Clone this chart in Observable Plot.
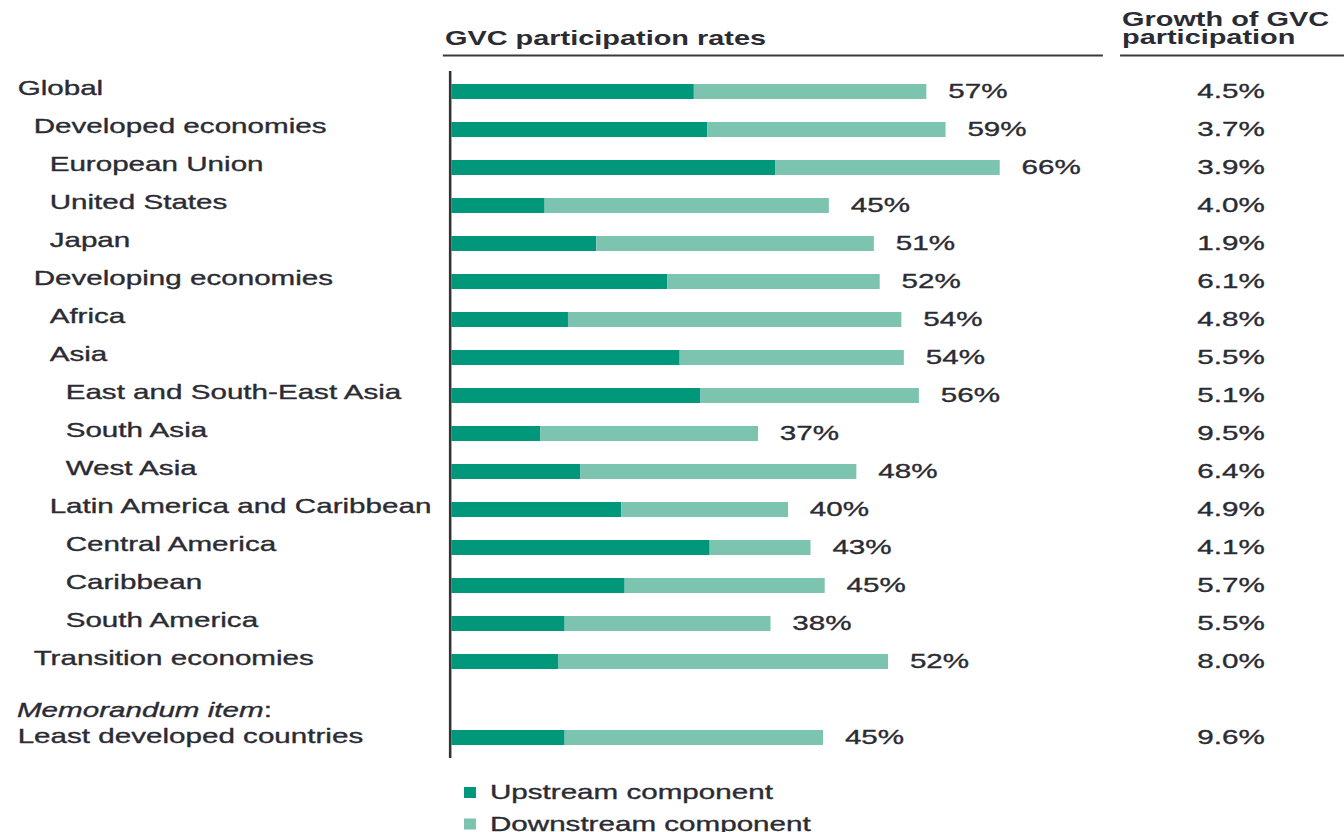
<!DOCTYPE html>
<html>
<head>
<meta charset="utf-8">
<script src="https://cdn.jsdelivr.net/npm/d3@7"></script>
<script src="https://cdn.jsdelivr.net/npm/@observablehq/plot@0.6"></script>
<style>
  html, body { margin: 0; padding: 0; background: #fff; overflow: hidden; }
  #chart { width: 1344px; height: 832px; }
</style>
</head>
<body>
<div id="chart"></div>
<script>
// ---------------- data ----------------
const regions = [
  "Global", "Developed economies", "European Union", "United States", "Japan",
  "Developing economies", "Africa", "Asia", "East and South-East Asia", "South Asia",
  "West Asia", "Latin America and Caribbean", "Central America", "Caribbean",
  "South America", "Transition economies", "Least developed countries"
];
// hierarchy depth of each region (0 = top level)
const depth = [0, 1, 2, 2, 2, 1, 2, 2, 3, 3, 3, 2, 3, 3, 3, 1, 0];
// upstream and downstream components (% of exports)
const upstream = [29.1, 30.7, 38.9, 11.2, 17.4, 25.9, 14.0, 27.4, 29.9, 10.7, 15.5, 20.4, 31.0, 20.8, 13.6, 12.8, 13.6];
const downstream = [27.9, 28.6, 26.9, 34.1, 33.3, 25.5, 40.0, 26.9, 26.2, 26.1, 33.1, 20.0, 12.1, 24.0, 24.7, 39.6, 31.0];
// printed participation rates
const totalLabels = [57, 59, 66, 45, 51, 52, 54, 54, 56, 37, 48, 40, 43, 45, 38, 52, 45];
// growth of GVC participation (%)
const growth = [4.5, 3.7, 3.9, 4.0, 1.9, 6.1, 4.8, 5.5, 5.1, 9.5, 6.4, 4.9, 4.1, 5.7, 5.5, 8.0, 9.6];
const components = ["Upstream component", "Downstream component"];
const colors = ["#00977a", "#7cc4b0"];
const headerBars = "GVC participation rates";
const headerGrowth = ["Growth of GVC", "participation"];
const memoLabel = "Memorandum item";

// ---------------- layout ----------------
const FONT = "'Liberation Sans', Arial, Helvetica, sans-serif";
const INK = "#2b2b33";
const SW = 0.35;                 // slight text thickening
const W = 953, H = 832;          // internal drawing size; displayed stretched to 1344 wide
const MEMO = "__memo__";
const LDC = regions[16];

const rows = regions.map((r, i) => ({
  region: r, depth: depth[i], up: upstream[i], down: downstream[i],
  total: totalLabels[i], growth: growth[i]
}));
const yDomain = [...regions.slice(0, 16), MEMO, LDC];
const long = rows.flatMap(d => [
  {region: d.region, component: components[0], value: d.up},
  {region: d.region, component: components[1], value: d.down}
]);

function decorations(index, scales, values, dims) {
  const g = d3.create("svg:g").attr("font-family", FONT).attr("fill", INK).attr("text-anchor", "start");
  const fl = dims.marginLeft;
  const fr = dims.width - dims.marginRight;
  // left header
  g.append("text").attr("x", fl - 4.5).attr("y", 45)
    .attr("font-weight", "bold").attr("font-size", 20.5).text(headerBars);
  g.append("line").attr("x1", fl - 6).attr("x2", fr - 129)
    .attr("y1", 55.5).attr("y2", 55.5).attr("stroke", "#3a3a3a").attr("stroke-width", 2);
  // right header
  const t = g.append("text").attr("font-weight", "bold").attr("font-size", 20.5);
  headerGrowth.forEach((s, i) => t.append("tspan").attr("x", fr - 115.4).attr("y", 26 + 18 * i).text(s));
  g.append("line").attr("x1", fr - 116.8).attr("x2", dims.width)
    .attr("y1", 55.5).attr("y2", 55.5).attr("stroke", "#3a3a3a").attr("stroke-width", 2);
  // memorandum label
  const bw = scales.y.bandwidth ? scales.y.bandwidth() : 0;
  const ym = scales.y(MEMO) + bw / 2 + 10.5;
  const m = g.append("text").attr("x", 12).attr("y", ym).attr("dy", "0.32em").attr("font-size", 21)
    .attr("stroke", INK).attr("stroke-width", SW);
  m.append("tspan").attr("font-style", "italic").text(memoLabel);
  m.append("tspan").text(":");
  // legend
  components.forEach((c, i) => {
    const cy = 792.5 + 31.5 * i;
    g.append("rect").attr("x", fl + 9).attr("y", cy - 5.5).attr("width", 8.5).attr("height", 11).attr("fill", colors[i]);
    g.append("text").attr("x", fl + 27.4).attr("y", cy).attr("dy", "0.32em").attr("font-size", 21)
      .attr("stroke", INK).attr("stroke-width", SW).text(c);
  });
  return g.node();
}

const marks = [
  Plot.ruleX([0], {stroke: "#333", strokeWidth: 1.8, dx: -1.3}),
  Plot.barX(long, {x: "value", y: "region", fill: "component"}),
  Plot.text(rows, {
    x: d => d.up + d.down, y: "region", text: d => d.total + "%",
    textAnchor: "start", dx: 15, dy: -1, fontSize: 21, fill: INK, stroke: INK, strokeWidth: SW
  }),
  Plot.text(rows, {
    y: "region", text: d => d.growth.toFixed(1) + "%",
    frameAnchor: "right", textAnchor: "end", dx: -14.7, dy: -1, fontSize: 21,
    fill: INK, stroke: INK, strokeWidth: SW
  })
];
[0, 1, 2, 3].forEach(k => {
  marks.push(Plot.text(rows.filter(d => d.depth === k && d.region !== LDC), {
    y: "region", text: "region", frameAnchor: "left", textAnchor: "start",
    dx: -308 + k * 11.35, dy: -3.5, fontSize: 21,
    fill: INK, stroke: INK, strokeWidth: SW
  }));
});
marks.push(Plot.text(rows.filter(d => d.region === LDC), {
  y: "region", text: "region", frameAnchor: "left", textAnchor: "start",
  dx: -308, dy: -1.5, fontSize: 21, fill: INK, stroke: INK, strokeWidth: SW
}));
marks.push(decorations);

const svg = Plot.plot({
  width: W, height: H,
  marginLeft: 320, marginRight: 42, marginTop: 71, marginBottom: 74,
  style: {fontFamily: FONT, fontSize: "21px", color: INK, background: "#fff", overflow: "visible"},
  x: {domain: [0, 100], axis: null},
  y: {domain: yDomain, axis: null, paddingInner: 0.607, paddingOuter: 0.3035},
  color: {domain: components, range: colors},
  marks
});

svg.setAttribute("width", 1344);
svg.setAttribute("height", 832);
svg.setAttribute("preserveAspectRatio", "none");
svg.style.width = "1344px";
svg.style.height = "832px";
svg.style.maxWidth = "none";
document.getElementById("chart").appendChild(svg);
</script>
</body>
</html>
